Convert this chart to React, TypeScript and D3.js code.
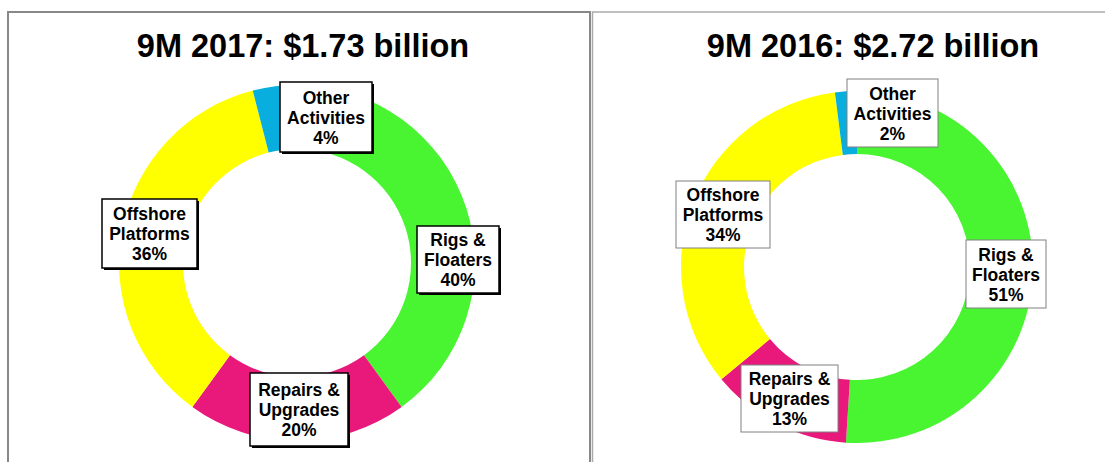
import React from 'react';
import * as d3 from 'd3';

// segments in the order Excel draws them, clockwise from 12 o'clock
const categories = ['Rigs & Floaters', 'Repairs & Upgrades', 'Offshore Platforms', 'Other Activities'];
const values2017 = [40, 20, 36, 4];
const values2016 = [51, 13, 34, 2];
const titles = ['9M 2017: $1.73 billion', '9M 2016: $2.72 billion'];

const colors = ['#48F530', '#E8197B', '#FFFF00', '#08AEDD'];

const W = 1105;
const H = 462;

// hand-placed label boxes, relative to the donut centre: [dx, dy, w, h]
const panels = [
  {
    title: titles[0],
    values: values2017,
    x: 8, width: 582, stroke: '#888', strokeWidth: 2,
    titleX: 303,
    cx: 297, cy: 263, outer: 178, inner: 114,
    boxStroke: '#000', shadow: true,
    boxes: [[120, -37, 82, 67], [-47, 110, 98, 73], [-195, -64, 95, 69], [-17, -181, 92, 70]],
  },
  {
    title: titles[1],
    values: values2016,
    x: 592.5, width: 540, stroke: '#aaa', strokeWidth: 1.5,
    titleX: 873,
    cx: 857, cy: 267, outer: 176, inner: 113,
    boxStroke: '#808080', shadow: false,
    boxes: [[109, -27, 80, 68], [-116, 98, 97, 67], [-181, -86, 94, 67], [-10, -188, 91, 68]],
  },
];

const splitLabel = (s: string) => {
  const i = s.indexOf(' & ');
  if (i >= 0) return [s.slice(0, i + 2), s.slice(i + 3)];
  const j = s.indexOf(' ');
  return [s.slice(0, j), s.slice(j + 1)];
};

const Donut = ({ p }: { p: typeof panels[0] }) => {
  const pie = d3.pie<number>().sort(null).value(d => d)(p.values);
  const arc = d3.arc<d3.PieArcDatum<number>>().innerRadius(p.inner).outerRadius(p.outer);

  return (
    <g>
      <rect x={p.x} y={12} width={p.width} height={H} fill="#fff" stroke={p.stroke} strokeWidth={p.strokeWidth} />
      <text x={p.titleX} y={57} textAnchor="middle" fontSize={32.5} fontWeight="bold" fill="#000">
        {p.title}
      </text>
      <g transform={`translate(${p.cx},${p.cy})`}>
        {pie.map((d, i) => (
          <path key={i} d={arc(d) || ''} fill={colors[i]} />
        ))}
        {pie.map((d, i) => {
          const [dx, dy, w, h] = p.boxes[i];
          const lines = [...splitLabel(categories[i]), `${p.values[i]}%`];
          const mid = dx + w / 2;
          const top = dy + (h - 3 * 20) / 2 + 16.5;
          return (
            <g key={'l' + i}>
              {p.shadow && <rect x={dx + 2} y={dy + 2} width={w} height={h} fill="#000" />}
              <rect x={dx} y={dy} width={w} height={h} fill="#fff" stroke={p.boxStroke} strokeWidth={p.shadow ? 1.5 : 1} />
              {lines.map((t, k) => (
                <text key={k} x={mid} y={top + k * 20} textAnchor="middle" fontSize={17.5} fontWeight="bold" fill="#000">
                  {t}
                </text>
              ))}
            </g>
          );
        })}
      </g>
    </g>
  );
};

export default function App() {
  return (
    <div style={{ position: 'absolute', left: 0, top: 0 }}>
      <svg width={W} height={H} style={{ display: 'block', fontFamily: '"Liberation Sans", Arial, sans-serif' }}>
        <rect width={W} height={H} fill="#fff" />
        {panels.map((p, i) => (
          <Donut key={i} p={p} />
        ))}
      </svg>
    </div>
  );
}
